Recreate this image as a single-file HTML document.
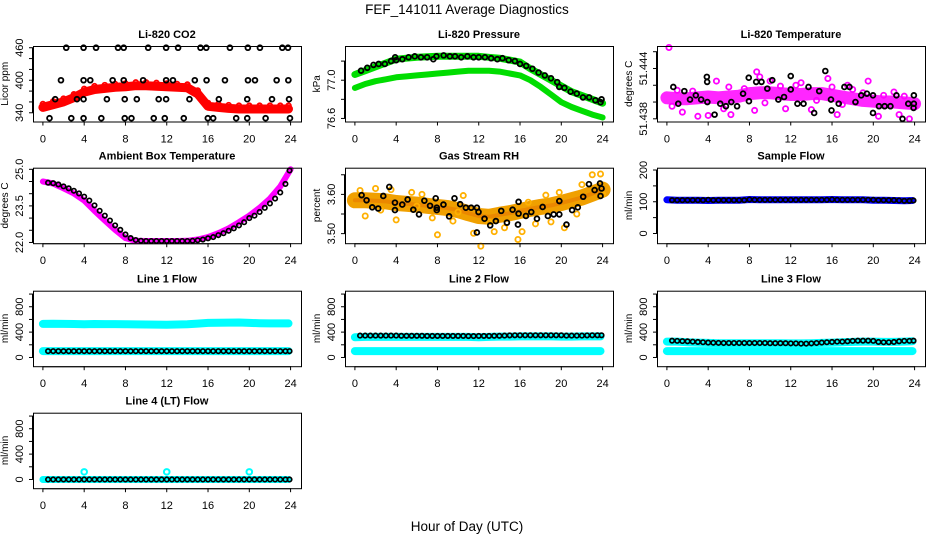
<!DOCTYPE html>
<html><head><meta charset="utf-8"><style>
html,body{margin:0;padding:0;background:#fff;}
svg{display:block;font-family:"Liberation Sans",Arial,sans-serif;}
</style></head><body>
<svg id="chart" width="936" height="540" viewBox="0 0 936 540" xmlns="http://www.w3.org/2000/svg">
<text x="467" y="14" font-size="13.5" text-anchor="middle" fill="#000">FEF_141011  Average Diagnostics</text>
<text x="467" y="531" font-size="13.5" text-anchor="middle" fill="#000">Hour of Day (UTC)</text>
</svg>
<script>
// ---------- data ----------
const hourTicks = [0,4,8,12,16,20,24];
const hourly = [0,1,2,3,4,5,6,7,8,9,10,11,12,13,14,15,16,17,18,19,20,21,22,23,24];
const halfHours = [0.5,1,1.5,2,2.5,3,3.5,4,4.5,5,5.5,6,6.5,7,7.5,8,8.5,9,9.5,10,10.5,11,11.5,12,12.5,13,13.5,14,14.5,15,15.5,16,16.5,17,17.5,18,18.5,19,19.5,20,20.5,21,21.5,22,22.5,23,23.5,23.9];

// CO2
const co2Band = [350,355,360,368,378,383,385,387,388,390,390,389,388,387,386,375,352,350,348,347,347,347,347,347,347];
const co2BlackHours = [2.26,3.94,5.15,7.28,7.83,10.2,11.94,13.1,15.27,15.83,18.12,19.86,21.03,23.2,23.75,
 1.75,3.94,4.59,6.76,7.83,9.71,11.94,12.6,14.72,15.86,17.64,19.87,20.55,22.65,23.78,
 1.19,3.3,3.94,6.2,7.93,9.1,11.22,11.94,14.2,17.05,19.8,22.2,23.85,
 0.64,2.75,3.94,5.66,7.93,8.58,10.74,11.81,13.65,15.98,16.5,18.73,19.8,21.58,23.94];
const co2BlackValues = [460,460,460,460,460,460,460,460,460,460,460,460,460,460,460,
 400,400,400,400,400,400,400,400,400,400,400,400,400,400,400,
 365,365,365,365,365,365,365,365,365,365,365,365,365,
 330,330,330,330,330,330,330,330,330,330,330,330,330,330,330];

// Pressure
const presUpper = [77.06,77.10,77.14,77.18,77.22,77.23,77.24,77.245,77.25,77.25,77.25,77.25,77.25,77.24,77.23,77.21,77.19,77.12,77.06,77.0,76.94,76.88,76.84,76.8,76.76];
const presLower = [76.92,76.96,76.99,77.01,77.03,77.04,77.05,77.06,77.07,77.08,77.09,77.1,77.1,77.1,77.09,77.07,77.05,77.0,76.93,76.85,76.77,76.72,76.68,76.64,76.61];
const presBlack = [[0.6,77.10],[1.2,77.13],[1.8,77.16],[2.3,77.17],[2.9,77.17],[3.5,77.20],[3.9,77.24],[4.0,77.21],[4.6,77.22],[5.2,77.24],[5.8,77.25],[6.4,77.24],[7.0,77.24],[7.6,77.22],[7.9,77.25],[8.6,77.26],[9.2,77.25],[9.7,77.25],[10.3,77.24],[10.9,77.25],[11.5,77.24],[12.0,77.24],[12.6,77.24],[13.2,77.23],[13.8,77.22],[14.3,77.23],[14.9,77.21],[15.5,77.20],[16.0,77.17],[16.6,77.15],[17.2,77.12],[17.8,77.08],[18.4,77.05],[19.0,77.02],[19.6,76.98],[19.8,76.93],[20.3,76.92],[20.9,76.88],[21.5,76.86],[22.1,76.82],[22.7,76.82],[23.3,76.79],[23.8,76.77],[23.9,76.80]];

// Li-820 temperature
const tempCenter = [51.4405,51.4404,51.4404,51.4405,51.4406,51.4405,51.4406,51.4407,51.4410,51.4411,51.4411,51.4410,51.4409,51.4409,51.4410,51.4410,51.4408,51.4406,51.4404,51.4402,51.4401,51.4400,51.4400,51.4399,51.4398];
const tempScatter = [[0.2,51.4465],[4.8,51.4425],[9,51.4430],[8.7,51.4436],[10,51.4425],[12.5,51.4420],[15.6,51.4428],[17.5,51.4420],[19.5,51.4425],[1.5,51.4388],[3,51.4383],[4,51.4384],[6.2,51.4385],[8.5,51.4390],[11.5,51.4392],[14,51.4391],[16.5,51.4385],[20.5,51.4383],[22.5,51.4385],[23.5,51.4380],[2.5,51.4413],[6,51.4418],[13,51.4423],[16,51.4418],[18,51.4415],[21,51.4408],[22,51.4412],[0.5,51.4395],[1,51.4414],[5.5,51.4392],[7.5,51.4416],[9.5,51.4399],[11,51.4419],[14.5,51.4402],[17,51.4397],[19,51.4411],[23,51.4407],[24,51.4394]];
const tempBlack = [[0.62,51.4418],[1.1,51.4398],[1.69,51.4413],[2.24,51.4403],[2.8,51.4408],[3.32,51.4403],[3.87,51.4430],[3.9,51.4424],[3.92,51.4400],[4.62,51.4385],[5.17,51.4398],[5.72,51.4395],[6.24,51.4400],[6.8,51.4395],[7.38,51.4410],[7.93,51.4429],[7.95,51.4401],[8.65,51.4424],[9.17,51.4424],[9.73,51.4416],[10.21,51.4426],[10.8,51.4403],[11.35,51.4406],[12.0,51.4431],[12.0,51.4415],[12.65,51.4398],[13.24,51.4398],[13.72,51.4418],[14.27,51.4387],[14.76,51.4413],[15.35,51.4437],[15.9,51.4403],[15.95,51.4390],[16.65,51.4398],[17.2,51.4418],[17.69,51.4418],[18.27,51.4400],[18.83,51.4408],[19.38,51.4410],[19.97,51.4408],[19.97,51.4387],[20.55,51.4395],[21.1,51.4395],[21.66,51.4395],[22.24,51.4408],[22.83,51.4380],[23.39,51.4398],[23.93,51.4408],[23.93,51.4398],[23.9,51.4393]];

// Ambient box temperature
const ambient = [24.5,24.42,24.22,24.01,23.72,23.3,22.9,22.52,22.18,22.07,22.06,22.06,22.06,22.06,22.07,22.12,22.22,22.38,22.58,22.83,23.1,23.42,23.8,24.3,25.0];
const ambientBlack = [24.45,24.43,24.38,24.3,24.22,24.12,24.01,23.88,23.72,23.52,23.3,23.1,22.9,22.7,22.52,22.33,22.18,22.1,22.07,22.06,22.06,22.06,22.06,22.06,22.06,22.06,22.06,22.06,22.07,22.09,22.12,22.17,22.22,22.3,22.38,22.48,22.58,22.7,22.83,23.0,23.1,23.25,23.42,23.6,23.8,24.05,24.4,24.95];

// Gas stream RH
const rhCenter = [3.585,3.585,3.584,3.582,3.578,3.576,3.574,3.571,3.568,3.565,3.56,3.552,3.545,3.543,3.548,3.552,3.558,3.563,3.568,3.572,3.578,3.585,3.592,3.602,3.612];
const rhScatter = [[0.5,3.610],[2,3.615],[3.5,3.612],[5.5,3.605],[6.5,3.600],[10.5,3.597],[8,3.497],[11.5,3.501],[12.2,3.468],[13.5,3.505],[15.8,3.485],[16.2,3.505],[19,3.530],[20.3,3.515],[22,3.625],[23,3.65],[23.8,3.652],[24,3.600],[1,3.545],[4,3.535],[7.5,3.540],[9.5,3.532],[14.5,3.515],[17.5,3.525],[21.5,3.550],[18.5,3.598],[19.8,3.605],[2.5,3.56],[6,3.57],[10,3.555],[13,3.53],[16.8,3.58]];
const rhBlack = [[0.65,3.598],[1.13,3.585],[1.68,3.567],[2.26,3.564],[2.75,3.596],[3.33,3.619],[3.88,3.579],[3.88,3.560],[4.59,3.574],[5.11,3.587],[5.66,3.561],[6.21,3.549],[6.73,3.584],[7.28,3.571],[7.83,3.590],[7.93,3.566],[7.93,3.560],[8.58,3.574],[9.13,3.544],[9.65,3.590],[10.2,3.575],[10.75,3.566],[11.27,3.566],[11.82,3.566],[11.82,3.503],[11.98,3.555],[12.56,3.538],[13.11,3.521],[13.66,3.532],[14.18,3.558],[14.73,3.528],[15.28,3.561],[15.8,3.523],[15.86,3.581],[15.86,3.551],[16.57,3.545],[17.09,3.555],[17.64,3.538],[18.19,3.568],[18.7,3.545],[19.26,3.549],[19.81,3.583],[19.81,3.549],[20.5,3.523],[21.05,3.560],[21.6,3.567],[22.12,3.594],[22.68,3.626],[23.23,3.611],[23.75,3.628],[23.8,3.596],[23.9,3.615]];

// Sample flow
const sampleBand = [106,105,105,105,104,105,105,105,107,106,106,106,106,106,106,106,107,106,106,106,105,105,104,103,104];
const sampleBlack = [105,105,105,105,105,105,105,106,105,105,105,105,105,105,105,107,106,106,106,106,106,106,106,106,106,106,106,106,106,106,106,107,106,106,106,106,106,106,106,106,105,105,105,105,104,103,103,104];

// Line flows
const line1Cyan = [530,532,530,528,525,528,527,526,524,522,520,518,515,520,525,535,545,548,550,552,545,540,538,538,538];
const line1Low = [100,100,100,100,100,100,100,100,100,100,100,100,100,100,100,100,100,100,100,100,100,100,100,100,100];
const line1Black = [100,100,100,100,100,100,100,100,100,100,100,100,100,100,100,100,100,100,100,100,100,100,100,100,100,100,100,100,100,100,100,100,100,100,100,100,100,100,100,100,100,100,100,100,100,100,100,100];
const line2Cyan = [320,325,325,325,325,325,325,325,325,325,325,325,320,325,330,330,332,332,332,332,330,330,332,332,332];
const line2Low = [100,100,100,100,100,100,100,100,100,100,100,100,100,100,100,100,100,100,100,100,100,100,100,100,100];
const line2Black = [345,345,345,345,345,345,345,345,342,342,342,342,342,340,340,340,340,340,340,340,340,338,338,340,340,340,342,342,345,348,350,350,350,350,350,350,350,350,350,350,345,345,345,345,348,350,350,350];
const line3Cyan = [250,250,240,235,230,225,225,225,225,225,225,225,222,222,225,230,235,240,245,250,250,245,245,250,255];
const line3Low = [100,100,100,100,100,100,100,100,100,100,100,100,100,100,100,100,100,100,100,100,100,100,100,100,100];
const line3Black = [265,262,258,255,250,245,240,235,232,230,228,228,228,228,228,228,228,228,228,225,225,225,225,222,222,218,218,222,228,235,240,245,250,250,255,262,265,265,265,262,245,240,240,245,255,262,262,265];
const line4Cyan = [0,0,0,0,0,0,0,0,0,0,0,0,0,0,0,0,0,0,0,0,0,0,0,0,0];
const line4SpikeHours = [4,12,20];
const line4SpikeValues = [120,120,120];
const line4Black = [0,0,0,0,0,0,0,0,0,0,0,0,0,0,0,0,0,0,0,0,0,0,0,0,0,0,0,0,0,0,0,0,0,0,0,0,0,0,0,0,0,0,0,0,0,0,0,0];

// ---------- drawing ----------
const NS = 'http://www.w3.org/2000/svg';
const svg = document.getElementById('chart');
const colLeft = [33, 345, 657];
const rowTop = [46, 167.7, 290.7, 412.7];
const BOXW = 268, BOXH = 75.5;

function el(tag, attrs, parent){
  const e = document.createElementNS(NS, tag);
  for (const k in attrs) e.setAttribute(k, attrs[k]);
  (parent||svg).appendChild(e);
  return e;
}

function panel(id, col, row, title, ylab, vTop, vBot, ticks, labels){
  const L = colLeft[col], T = rowTop[row], B = T + BOXH, R = L + BOXW;
  const g = el('g', {});
  
  
  const x = h => L + 9.9 + h * 10.32;
  const y = v => T + (vTop - v) / (vTop - vBot) * BOXH;
  const t = el('text', {x:(L+R)/2, y:T-8, 'font-size':11, 'font-weight':'bold', 'text-anchor':'middle'}, g);
  t.textContent = title;
  
  
  const yl = el('text', {x:0, y:0, 'font-size':10, 'text-anchor':'middle', transform:`translate(${L-25},${(T+B)/2}) rotate(-90)`}, g);
  yl.textContent = ylab;
  
  
  const ya = el('g', {stroke:'#000','stroke-width':1}, g);
  
  
  el('line', {x1:L-0.5, x2:L-0.5, y1:y(ticks[0]), y2:y(ticks[ticks.length-1])}, ya);
  ticks.forEach(v => el('line', {x1:L-4, x2:L, y1:y(v), y2:y(v)}, ya));
  labels.forEach(lb => {
    const tx = el('text', {x:0, y:0, 'font-size':11, 'text-anchor':'middle', stroke:'none', fill:'#000', transform:`translate(${L-10},${y(lb.v)}) rotate(-90)`}, ya);
    tx.textContent = lb.s;
    
    
  });
  const xa = el('g', {stroke:'#000','stroke-width':1}, g);
  
  
  el('line', {x1:x(0), x2:x(24), y1:B+0.5, y2:B+0.5}, xa);
  hourTicks.forEach(h => {
    el('line', {x1:x(h), x2:x(h), y1:B, y2:B+4}, xa);
    const tx = el('text', {x:x(h), y:B+21, 'font-size':11, 'text-anchor':'middle', stroke:'none', fill:'#000'}, xa);
    tx.textContent = h;
    
    
  });
  const data = el('g', {}, g);
  
  
  const box = el('rect', {x:L+0.5, y:T+0.5, width:BOXW, height:BOXH, fill:'none', stroke:'#000', 'stroke-width':1}, g);
  
  
  return {x, y, g:data, L, T};
}

function band(p, hours, vals, color, w, name, op){
  const pts = hours.map((h,i) => `${p.x(h).toFixed(1)},${p.y(vals[i]).toFixed(1)}`).join(' ');
  const pl = el('polyline', {points:pts, fill:'none', stroke:color, 'stroke-width':w, 'stroke-linecap':'round', 'stroke-linejoin':'round', 'stroke-opacity':op||1}, p.g);
  
  
}
function dot(p, h, v, color, name, r, sw){
  const c = el('circle', {cx:p.x(h), cy:p.y(v), r:r||2.4, fill:'none', stroke:color, 'stroke-width':sw||1.8}, p.g);
  
  
}

{
  const p = panel('co2', 0, 0, 'Li-820 CO2', 'Licor ppm', 463.2, 323.9,
    [340,360,380,400,420,440,460], [{v:340,s:'340'},{v:400,s:'400'},{v:460,s:'460'}]);
  band(p, hourly.map(h=>Math.min(h,23.8)), co2Band, '#ff0000', 9, 'co2-red-band');
  hourly.forEach((h,i)=>dot(p, Math.min(h,23.8), co2Band[i]+6, '#ff0000', 'co2-red-point'));
  co2BlackHours.forEach((h,i)=>dot(p, h, co2BlackValues[i], '#000', 'co2-black-point'));
}
{
  const p = panel('pressure', 1, 0, 'Li-820 Pressure', 'kPa', 77.358, 76.568,
    [76.6,76.8,77.0,77.2], [{v:76.6,s:'76.6'},{v:77.0,s:'77.0'}]);
  band(p, hourly, presUpper, '#00dd00', 7, 'pressure-upper-band');
  band(p, hourly, presLower, '#00dd00', 6, 'pressure-lower-band');
  presBlack.forEach(d=>dot(p, d[0], d[1], '#000', 'pressure-black-point'));
}
{
  const p = panel('li820-temp', 2, 0, 'Li-820 Temperature', 'degrees C', 51.44668, 51.43768,
    [51.438,51.440,51.442,51.444,51.446], [{v:51.438,s:'51.438'},{v:51.444,s:'51.444'}]);
  band(p, hourly, tempCenter, '#ff00ff', 13, 'temp-magenta-band', 0.85);
  tempScatter.forEach(d=>dot(p, d[0], d[1], '#ff00ff', 'temp-magenta-point', 2.6, 1.8));
  tempBlack.forEach(d=>dot(p, d[0], d[1], '#000', 'temp-black-point'));
}
{
  const p = panel('ambient-temp', 0, 1, 'Ambient Box Temperature', 'degrees C', 25.066, 21.97,
    [22.0,22.5,23.0,23.5,24.0,24.5,25.0], [{v:22.0,s:'22.0'},{v:23.5,s:'23.5'},{v:25.0,s:'25.0'}]);
  band(p, hourly, ambient, '#ff00ff', 6, 'ambient-magenta-band');
  halfHours.forEach((h,i)=>dot(p, h, ambientBlack[i], '#000', 'ambient-black-point', 2.2, 1.7));
}
{
  const p = panel('gas-rh', 1, 1, 'Gas Stream RH', 'percent', 3.668, 3.4756,
    [3.50,3.55,3.60,3.65], [{v:3.50,s:'3.50'},{v:3.60,s:'3.60'}]);
  band(p, hourly, rhCenter, '#f0a000', 16, 'rh-orange-band');
  band(p, hourly, rhCenter, '#e87800', 4, 'rh-red-speckle', 0.6);
  rhScatter.forEach(d=>dot(p, d[0], d[1], '#ffb000', 'rh-orange-point', 2.6, 1.8));
  rhBlack.forEach(d=>dot(p, d[0], d[1], '#000', 'rh-black-point'));
}
{
  const p = panel('sample-flow', 2, 1, 'Sample Flow', 'ml/min', 207.3, -30.6,
    [0,50,100,150,200], [{v:0,s:'0'},{v:100,s:'100'},{v:200,s:'200'}]);
  band(p, hourly.map(h=>Math.min(h,23.8)), sampleBand, '#0000ff', 7, 'sample-blue-band');
  halfHours.forEach((h,i)=>dot(p, h, sampleBlack[i], '#000', 'sample-black-point', 2.2, 1.7));
}
const flowTicks = [0,200,400,600,800,1000];
const flowLabels = [{v:0,s:'0'},{v:400,s:'400'},{v:800,s:'800'}];
{
  const p = panel('line1-flow', 0, 2, 'Line 1 Flow', 'ml/min', 1053, -137.5, flowTicks, flowLabels);
  band(p, hourly.map(h=>Math.min(h,23.8)), line1Cyan, '#00ffff', 8, 'line1-cyan-band');
  band(p, hourly.map(h=>Math.min(h,23.8)), line1Low, '#00ffff', 8, 'line1-cyan-low-band');
  halfHours.forEach((h,i)=>dot(p, h, line1Black[i], '#000', 'line1-black-point', 2.2, 1.7));
}
{
  const p = panel('line2-flow', 1, 2, 'Line 2 Flow', 'ml/min', 1053, -137.5, flowTicks, flowLabels);
  band(p, hourly.map(h=>Math.min(h,23.8)), line2Cyan, '#00ffff', 8, 'line2-cyan-band');
  band(p, hourly.map(h=>Math.min(h,23.8)), line2Low, '#00ffff', 8, 'line2-cyan-low-band');
  halfHours.forEach((h,i)=>dot(p, h, line2Black[i], '#000', 'line2-black-point', 2.2, 1.7));
}
{
  const p = panel('line3-flow', 2, 2, 'Line 3 Flow', 'ml/min', 1053, -137.5, flowTicks, flowLabels);
  band(p, hourly.map(h=>Math.min(h,23.8)), line3Cyan, '#00ffff', 8, 'line3-cyan-band');
  band(p, hourly.map(h=>Math.min(h,23.8)), line3Low, '#00ffff', 8, 'line3-cyan-low-band');
  halfHours.forEach((h,i)=>dot(p, h, line3Black[i], '#000', 'line3-black-point', 2.2, 1.7));
}
{
  const p = panel('line4-flow', 0, 3, 'Line 4 (LT) Flow', 'ml/min', 1053, -137.5, flowTicks, flowLabels);
  band(p, hourly.map(h=>Math.min(h,23.8)), line4Cyan, '#00ffff', 7, 'line4-cyan-band');
  line4SpikeHours.forEach((h,i)=>dot(p, h, line4SpikeValues[i], '#00ffff', 'line4-cyan-spike', 2.8, 2));
  halfHours.forEach((h,i)=>dot(p, h, line4Black[i], '#000', 'line4-black-point', 2.2, 1.7));
}
</script>
</body></html>
